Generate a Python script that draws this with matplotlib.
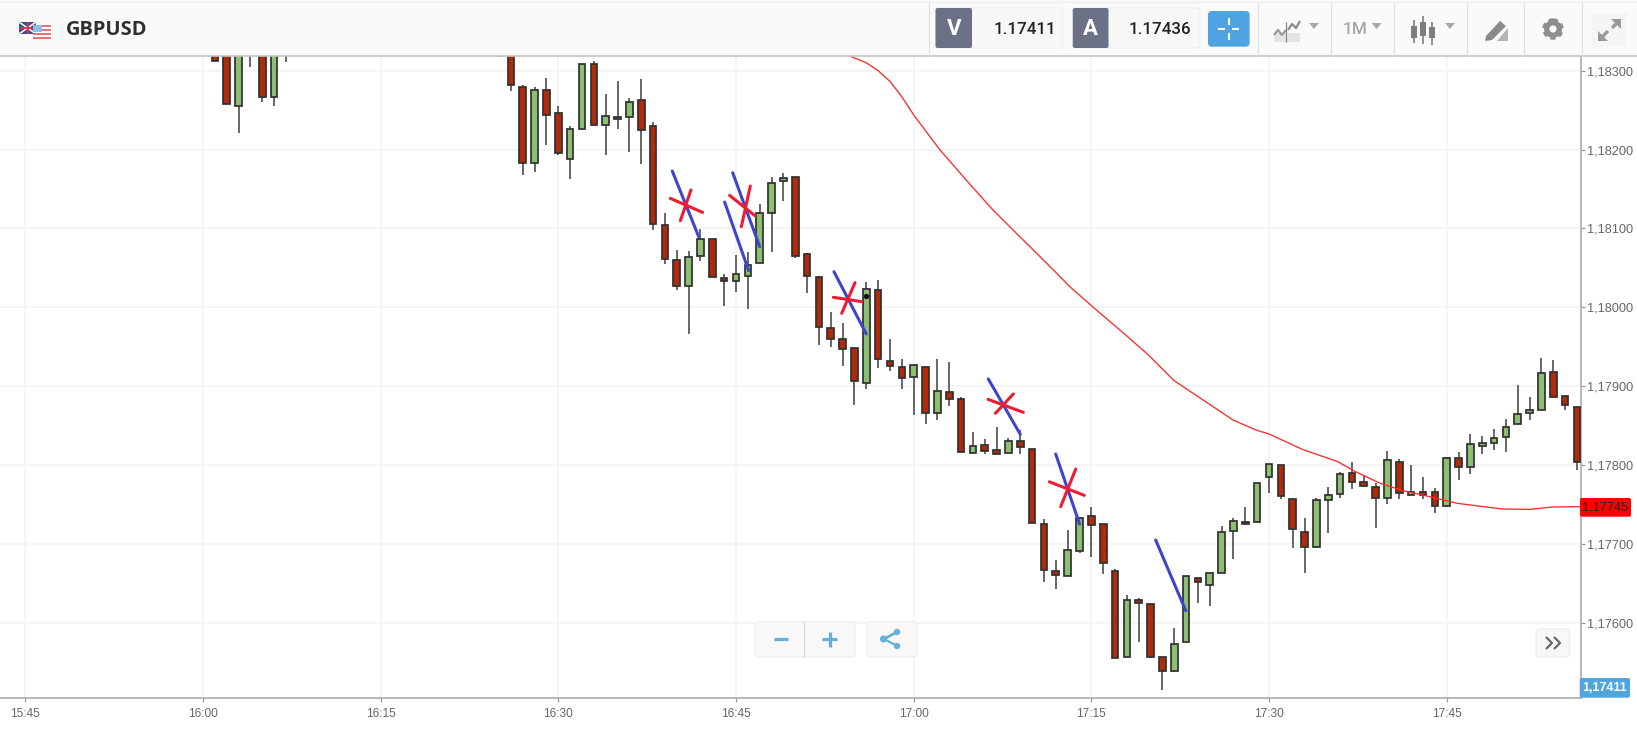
import matplotlib
matplotlib.use("Agg")
import matplotlib.pyplot as plt
from matplotlib.patches import Rectangle, FancyBboxPatch, Polygon, Circle

plt.rcParams['font.family'] = ['Liberation Sans', 'DejaVu Sans']

SYMBOL = "GBPUSD"
BID = "1.17411"
ASK = "1.17436"
TIMEFRAME = "1M"
LAST_LABEL = "1,17745"
BID_LABEL = "1,17411"

# prices are in units of 0.00001
early_times = ["16:01", "16:02", "16:03", "16:04", "16:05", "16:06", "16:07", "16:25", "16:26"]
early_open = [118345, 118335, 118255.6, 118340, 118350, 118267, 118330, 118330, 118340]
early_close = [118312.7, 118257.8, 118330, 118325, 118267, 118345, 118325, 118335, 118281.4]
early_high = [118350, 118340, 118335, 118345, 118355, 118350, 118335, 118340, 118345]
early_low = [118312.7, 118257.8, 118221.4, 118304.2, 118260.7, 118255.2, 118311.4, 118317, 118274.7]

first_minute = "16:27"
opens = [
    118279.7, 118182.5, 118275.5, 118246.8, 118188.5, 118226.5, 118308.5, 118230.7, 118238.3, 118240.9,
    118262.4, 118229.9, 118104.4, 118060.0, 118027.0, 118065.5, 118087.1, 118036.8, 118033.0, 118039.3,
    118055.8, 118120.0, 118159.8, 118165.7, 118067.3, 118038.2, 117974.4, 117960.0, 117948.2, 117903.8,
    118021.7, 117931.7, 117924.1, 117911.4, 117924.5, 117866.6, 117892.8, 117884.4, 117815.9, 117826.0,
    117818.9, 117815.9, 117830.3, 117820.1, 117725.8, 117665.9, 117659.9, 117691.2, 117736.0, 117725.8,
    117665.9, 117557.3, 117628.7, 117624.4, 117557.3, 117538.7, 117575.9, 117657.0, 117648.5, 117662.9,
    117717.0, 117728.4, 117728.4, 117785.4, 117800.3, 117757.2, 117715.8, 117696.8, 117755.9, 117763.9,
    117790.1, 117778.7, 117772.8, 117758.9, 117804.5, 117762.7, 117765.6, 117765.6, 117748.7, 117808.7,
    117797.3, 117823.9, 117828.6, 117835.4, 117852.7, 117865.8, 117870.0, 117918.6, 117887.7, 117874.2,
]
closes = [
    118182.5, 118275.5, 118244.2, 118195.2, 118225.6, 118308.5, 118231.1, 118242.5, 118241.3, 118259.9,
    118225.2, 118105.7, 118061.3, 118027.0, 118064.2, 118087.1, 118038.5, 118033.0, 118042.7, 118054.1,
    118120.0, 118157.2, 118164.4, 118065.5, 118039.8, 117975.6, 117959.6, 117946.9, 117907.2, 118022.9,
    117934.2, 117925.3, 117911.0, 117927.5, 117866.6, 117894.5, 117884.4, 117817.2, 117824.4, 117818.5,
    117814.2, 117830.3, 117823.5, 117727.1, 117667.1, 117661.2, 117692.9, 117733.0, 117724.2, 117675.6,
    117555.6, 117628.7, 117625.7, 117557.3, 117538.7, 117572.9, 117659.9, 117651.5, 117662.9, 117715.7,
    117728.8, 117725.8, 117777.0, 117801.5, 117761.4, 117718.8, 117696.0, 117755.9, 117762.7, 117788.9,
    117778.3, 117774.1, 117758.9, 117806.2, 117764.4, 117766.5, 117762.7, 117748.7, 117808.7, 117797.3,
    117827.3, 117828.6, 117834.1, 117848.9, 117864.5, 117870.0, 117917.3, 117886.9, 117876.8, 117804.5,
]
highs = [
    118282.3, 118279.7, 118290.7, 118255.2, 118229.9, 118308.5, 118312.3, 118270.4, 118286.5, 118265.0,
    118289.0, 118235.4, 118119.2, 118072.3, 118071.0, 118099.3, 118087.1, 118042.3, 118066.4, 118069.7,
    118131.0, 118165.7, 118170.7, 118165.7, 118069.4, 118038.2, 117993.8, 117980.7, 117948.2, 118032.2,
    118034.4, 117959.6, 117934.2, 117927.5, 117924.5, 117934.2, 117931.3, 117886.9, 117842.1, 117832.8,
    117848.0, 117834.1, 117844.6, 117820.1, 117731.3, 117679.8, 117718.2, 117734.7, 117746.6, 117725.8,
    117668.4, 117635.4, 117631.2, 117624.4, 117557.3, 117594.0, 117659.9, 117657.0, 117663.7, 117722.5,
    117732.6, 117746.6, 117777.0, 117801.5, 117800.3, 117757.2, 117732.7, 117758.0, 117772.9, 117791.8,
    117804.1, 117787.6, 117777.9, 117818.5, 117807.9, 117799.9, 117785.5, 117770.7, 117810.9, 117816.8,
    117839.6, 117836.6, 117845.5, 117858.2, 117901.3, 117886.9, 117935.5, 117932.9, 117887.7, 117874.2,
]
lows = [
    118167.8, 118172.0, 118205.4, 118193.5, 118162.7, 118226.5, 118231.1, 118192.7, 118225.6, 118197.3,
    118181.3, 118098.0, 118054.5, 118022.4, 117966.2, 118058.3, 118038.5, 118001.3, 118019.9, 117997.5,
    118055.8, 118069.8, 118135.3, 118062.2, 118018.7, 117952.8, 117949.9, 117925.8, 117875.9, 117897.0,
    117922.8, 117919.8, 117897.0, 117864.1, 117852.7, 117856.9, 117875.5, 117817.2, 117815.9, 117814.2,
    117814.2, 117815.9, 117814.2, 117727.1, 117651.5, 117643.0, 117659.9, 117689.1, 117684.0, 117661.6,
    117555.6, 117556.4, 117575.9, 117556.0, 117515.0, 117537.8, 117575.9, 117625.7, 117621.5, 117662.9,
    117681.5, 117725.8, 117728.4, 117764.3, 117757.2, 117695.5, 117663.4, 117694.7, 117714.5, 117758.9,
    117770.3, 117772.0, 117720.0, 117750.4, 117757.6, 117762.7, 117757.6, 117739.0, 117746.6, 117781.7,
    117788.9, 117814.7, 117818.9, 117817.2, 117852.7, 117857.3, 117870.0, 117886.9, 117870.0, 117794.0,
]

# moving average: time (minutes since 16:45) and price
ma_minutes = [9.7, 11.0, 12.0, 13.0, 14.0, 15.0, 17.2, 19.4, 21.6, 23.8, 25.1, 27.36, 28.2, 30.4, 32.6, 34.8, 37.0,
              39.7, 41.96, 43.9, 45.0, 47.8, 50.8, 52.3, 54.4, 56.3, 58.2, 60.9, 64.7, 67.0, 68.9, 71.34]
ma_price = [118318, 118310, 118300, 118286.4, 118267, 118244, 118200, 118162, 118125, 118092, 118072.8, 118039,
            118026, 117997, 117969, 117940, 117907, 117880, 117857.3, 117844.6, 117839.6, 117820.1, 117804.5,
            117791.8, 117777, 117767.8, 117761.4, 117751.7, 117744.5, 117744, 117747, 117747.5]

# hand-drawn marks: (t0, p0, t1, p1) in minutes since 16:45 and price
blue_strokes = [
    (-5.38, 118172.8, -3.15, 118089.6),
    (-0.96, 118133.5, 1.07, 118046.5),
    (-0.28, 118170.7, 2.0, 118076.9),
    (8.27, 118045.3, 11.0, 117966.3),
    (21.3, 117909.3, 24.0, 117839.2),
    (26.99, 117814.2, 29.01, 117725.4),
    (35.43, 117705.2, 37.97, 117615.6),
]
red_strokes = [
    (-5.55, 118138.2, -2.82, 118120.4), (-3.8, 118148.8, -4.7, 118109.9),
    (-0.54, 118142.0, 1.63, 118115.8), (1.21, 118153.8, 0.45, 118102.3),
    (8.22, 118012.8, 10.61, 118007.3), (10.05, 118031.4, 8.92, 117992.5),
    (21.28, 117883.5, 24.26, 117867.0), (23.42, 117890.3, 21.9, 117865.8),
    (26.45, 117779.0, 29.41, 117761.8), (28.68, 117795.1, 27.41, 117747.4),
]
dot = (10.98, 118014.9)

x_ticks = ["15:45", "16:00", "16:15", "16:30", "16:45", "17:00", "17:15", "17:30", "17:45"]
y_ticks = [117600, 117700, 117800, 117900, 118000, 118100, 118200, 118300]


def minutes(s):
    h, m = s.split(":")
    return int(h) * 60 + int(m)


REF = minutes("16:45")
W, H = 1637, 729
fig = plt.figure(figsize=(W / 100, H / 100), dpi=100, facecolor="white")

# ---- price chart ----
ax = fig.add_axes([0, 1 - 698 / H, 1581 / W, (698 - 56) / H])
ax.set_xlim(REF - 736 / 11.845, REF + 845 / 11.845)
ax.set_ylim(117505, 118318.6)
ax.set_xticks([minutes(t) for t in x_ticks])
ax.set_xticklabels(x_ticks)
ax.set_yticks(y_ticks)
ax.set_yticklabels(["1,%05d" % (v - 100000) for v in y_ticks])
ax.yaxis.tick_right()
ax.tick_params(axis="x", length=3, width=0.9, color="#999999", labelcolor="#666666", labelsize=8.6, pad=4)
ax.tick_params(axis="y", length=3, width=0.9, color="#999999", labelcolor="#666666", labelsize=9.2, pad=1)
ax.grid(True, color="#f4f4f4", lw=1.3)
ax.set_axisbelow(True)
for side in ("top", "left"):
    ax.spines[side].set_visible(False)
for side in ("bottom", "right"):
    ax.spines[side].set_color("#ababab")
    ax.spines[side].set_linewidth(1.2)

start = minutes(first_minute)
t_all = [minutes(t) for t in early_times] + [start + i for i in range(len(opens))]
o_all = early_open + opens
c_all = early_close + closes
h_all = early_high + highs
l_all = early_low + lows
UP, DOWN, EDGE = "#8dbf72", "#b32a0a", "#303030"
ax.vlines(t_all, l_all, h_all, color="#5a5a5a", lw=1.3, zorder=2)
ax.bar(t_all, [abs(c - o) for o, c in zip(o_all, c_all)], bottom=[min(o, c) for o, c in zip(o_all, c_all)],
       width=0.56, color=[UP if c >= o else DOWN for o, c in zip(o_all, c_all)],
       edgecolor=EDGE, linewidth=1.25, zorder=3)
ax.plot([REF + m for m in ma_minutes], ma_price, color="#ff2a2a", lw=0.95, zorder=4)
for a, b, c, d in blue_strokes:
    ax.plot([REF + a, REF + c], [b, d], color="#3d45cf", lw=2.2, zorder=5, solid_capstyle="round")
for a, b, c, d in red_strokes:
    ax.plot([REF + a, REF + c], [b, d], color="#ee1c30", lw=2.2, zorder=6, solid_capstyle="round")
ax.plot([REF + dot[0]], [dot[1]], "o", color="#111111", ms=2.8, zorder=7)

# ---- interface overlay in pixel coordinates ----
ui = fig.add_axes([0, 0, 1, 1], facecolor="none")
ui.set_xlim(0, W)
ui.set_ylim(H, 0)
ui.axis("off")


def rect(x0, y0, x1, y1, fc, ec="none", lw=0, z=10):
    ui.add_patch(Rectangle((x0, y0), x1 - x0, y1 - y0, fc=fc, ec=ec, lw=lw, zorder=z))


def rrect(x0, y0, x1, y1, fc, ec="none", lw=0, r=3, z=10):
    ui.add_patch(FancyBboxPatch((x0 + r, y0 + r), x1 - x0 - 2 * r, y1 - y0 - 2 * r,
                                boxstyle=f"round,pad={r},rounding_size={r}", fc=fc, ec=ec, lw=lw, zorder=z))


def seg(xs, ys, color, lw, z=12, cap="butt"):
    ui.plot(xs, ys, color=color, lw=lw, zorder=z, solid_capstyle=cap)


def tri(cx, cy, color="#a8a8a8"):
    ui.add_patch(Polygon([(cx - 5, cy - 3), (cx + 5, cy - 3), (cx, cy + 3)], fc=color, ec="none", zorder=12))


rect(0, 0, W, 56, "#fafafa")
seg([0, W], [1.5, 1.5], "#eeeeee", 1.0, z=11)
seg([0, W], [56, 56], "#c4c4c4", 1.2, z=11)
for x in (929.3, 1257.8, 1330.7, 1394, 1467, 1524, 1582):
    seg([x, x], [2, 56], "#e0e0e0", 0.8, z=11)

# flags
rect(19, 22, 36, 34, "#3a4c8c", z=12)
seg([19, 36], [22, 34], "#f4f4f4", 1.2)
seg([19, 36], [34, 22], "#f4f4f4", 1.2)
seg([27.5, 27.5], [22, 34], "#d8374a", 1.4)
seg([19, 36], [28, 28], "#d8374a", 1.4)
rect(33, 25, 51, 39, "#f7f7f7", z=13)
for y in (25, 29, 33, 37):
    rect(33, y, 51, y + 2, "#e8707a", z=14)
rect(33, 25, 42, 32, "#8fbce8", z=15)
ui.text(66, 29.5, SYMBOL, family="Open Sans", weight="bold", fontsize=14.4, color="#2f2f2f", va="center", zorder=12)

# bid / ask
rrect(935.5, 8, 1062.6, 48, "#f7f7f7", ec="#eeeeee", lw=0.8)
rrect(1072.8, 8, 1200, 48, "#f7f7f7", ec="#eeeeee", lw=0.8)
rrect(935.5, 8, 972, 48, "#6d7188", r=2, z=11)
rrect(1072.8, 8, 1108.5, 48, "#6d7188", r=2, z=11)
ui.text(953.7, 29, "V", family="Roboto", weight="bold", fontsize=16, color="white", ha="center", va="center", zorder=12)
ui.text(1090.6, 29, "A", family="Roboto", weight="bold", fontsize=16, color="white", ha="center", va="center", zorder=12)
ui.text(1025, 29, BID, family="Roboto", weight="medium", fontsize=12.2, color="#222222", ha="center", va="center", zorder=12)
ui.text(1160, 29, ASK, family="Roboto", weight="medium", fontsize=12.2, color="#222222", ha="center", va="center", zorder=12)

# crosshair button
rrect(1208, 11, 1249.6, 46.7, "#4fa3e0", r=4)
seg([1218, 1225], [29, 29], "white", 1.5)
seg([1232, 1239], [29, 29], "white", 1.5)
seg([1228.8, 1228.8], [18, 25], "white", 1.5)
seg([1228.8, 1228.8], [33, 40], "white", 1.5)

# chart-mode icon
rect(1274, 33, 1300, 42, "#e4e4e4", z=11)
seg([1274, 1278, 1282, 1286], [35, 30, 35, 30], "#9a9a9a", 1.6)
seg([1288, 1292, 1296, 1300], [30, 24, 28, 21], "#8a8a8a", 1.6)
seg([1286, 1286], [22, 42], "#8a8a8a", 0.9)
tri(1314, 26)
ui.text(1355, 29, TIMEFRAME, family="Roboto", fontsize=12.5, weight="medium", color="#a8a8a8", ha="center", va="center", zorder=12)
tri(1376.6, 26)

# candle icon
for x, y0, y1, w0, w1 in ((1414, 26, 38, 20, 43), (1423, 22, 36, 16, 44), (1432, 27, 38, 22, 45)):
    seg([x, x], [w0, w1], "#7e7e7e", 1.2)
    rect(x - 3.3, y0, x + 3.3, y1, "#7e7e7e", z=12)
tri(1450, 26)

# pencil icon
ui.add_patch(Polygon([(1486, 36), (1500, 21), (1506, 26), (1492, 40), (1485, 41)], fc="#8a8a8a", ec="none", zorder=12))
ui.add_patch(Polygon([(1497, 41), (1508, 28), (1508, 41)], fc="#b5b5b5", ec="none", zorder=12))

# gear icon
ui.add_patch(Circle((1553, 29), 9, fc="#8e8e8e", ec="#8e8e8e", lw=2.5, ls=(0, (1.4, 1.1)), zorder=12))
ui.add_patch(Circle((1553, 29), 3.6, fc="#fafafa", zorder=13))

# expand icon
rect(1592, 13, 1627, 47, "#f5f5f5", z=11)
seg([1601, 1608], [38, 31], "#9a9a9a", 2.4)
seg([1612, 1619], [28, 21], "#9a9a9a", 2.4)
ui.add_patch(Polygon([(1598, 41), (1598, 31), (1608, 41)], fc="#9a9a9a", zorder=12))
ui.add_patch(Polygon([(1621, 19), (1611, 19), (1621, 29)], fc="#9a9a9a", zorder=12))

# zoom and share buttons
rrect(755, 621.7, 855, 657, "#f8f8f8", ec="#eaeaea", lw=0.7)
seg([804, 804], [622, 657], "#d4d4d4", 0.8)
rrect(866.7, 621.7, 917, 657, "#f8f8f8", ec="#eaeaea", lw=0.7)
BLUE = "#68aedc"
seg([774, 788], [639, 639], BLUE, 2.3)
seg([822, 837], [639, 639], BLUE, 2.3)
seg([829.5, 829.5], [632, 647], BLUE, 2.3)
seg([884, 897, 884, 897], [639, 632, 639, 646], BLUE, 1.6)
for x, y, r in ((883.5, 639, 3.5), (897, 632, 3.2), (897, 646, 3.2)):
    ui.add_patch(Circle((x, y), r, fc=BLUE, zorder=13))

# scroll button
rrect(1536, 629, 1569.7, 657, "#f8f8f8", ec="#eaeaea", lw=0.7)
seg([1546, 1552, 1546], [637, 643, 649], "#666666", 1.6)
seg([1554, 1560, 1554], [637, 643, 649], "#666666", 1.6)

# price labels
rrect(1580, 498, 1631, 516.7, "#ff0000", r=2, z=14)
ui.text(1605.5, 507.5, LAST_LABEL, fontsize=9.2, color="#222222", ha="center", va="center", zorder=15)
rrect(1579.7, 678, 1630, 697.7, "#4ea6dc", r=2, z=14)
ui.text(1605, 688, BID_LABEL, fontsize=9, weight="bold", color="white", ha="center", va="center", zorder=15)

fig.savefig("out.png", dpi=100, facecolor="white")
